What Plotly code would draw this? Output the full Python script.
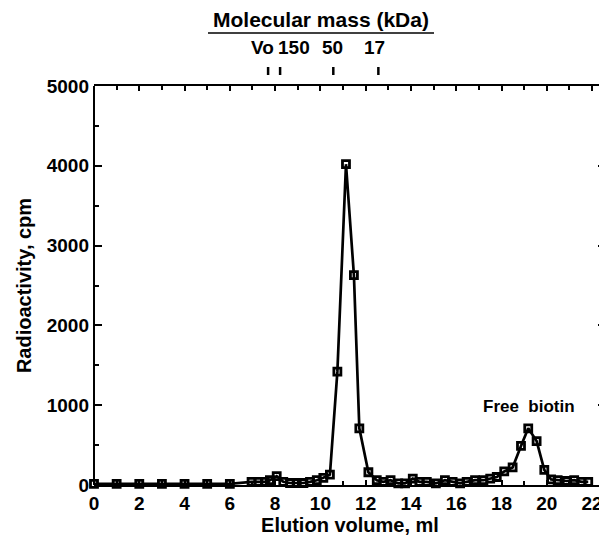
import plotly.graph_objects as go

# Elution profile data (ml, cpm)
elution_ml = [0, 1, 2, 3, 4, 5, 6, 6.96, 7.26, 7.55, 7.77, 8.07, 8.36, 8.66, 8.95, 9.25, 9.54,
              9.84, 10.13, 10.42, 10.75, 11.13, 11.48, 11.72, 12.12, 12.49, 12.78, 13.1,
              13.44, 13.74, 14.08, 14.37, 14.7, 15.1, 15.5, 15.84, 16.17, 16.46, 16.83,
              17.2, 17.5, 17.79, 18.12, 18.49, 18.86, 19.18, 19.55, 19.89, 20.19, 20.48,
              20.88, 21.21, 21.54, 21.83]
radioactivity_cpm = [15, 15, 15, 15, 15, 15, 15, 40, 40, 40, 60, 110, 40, 25, 25, 25, 40,
                     60, 90, 130, 1420, 4020, 2630, 710, 160, 60, 40, 60,
                     20, 20, 80, 40, 40, 20, 60, 40, 20, 40, 60,
                     60, 80, 100, 170, 220, 490, 710, 550, 190, 70, 60,
                     50, 60, 40, 40]

# Molecular mass markers (top)
marker_labels = ["Vo", "150", "50", "17"]
marker_ml = [7.69, 8.22, 10.57, 12.56]
marker_label_ml = [7.45, 8.85, 10.55, 12.4]

FONT = "Liberation Sans, Arial, Helvetica, sans-serif"
# page has an 8px body margin; figure coords = page coords - 8
PL, PR, PT, PB = 94, 606, 86, 485          # plot area in page pixels
XMAX = (PR - PL) / 22.64

fig = go.Figure()
fig.add_trace(go.Scatter(
    x=elution_ml, y=radioactivity_cpm, mode="lines+markers",
    line=dict(color="black", width=2.7),
    marker=dict(symbol="square-open", size=7, color="black", line=dict(width=2.8, color="black")),
    showlegend=False, cliponaxis=False,
))

W, H = 599, 528
fig.update_layout(
    width=W, height=H,
    margin=dict(l=PL - 8, r=W - (PR - 8), t=PT - 8, b=H - (PB - 8), autoexpand=False),
    paper_bgcolor="white", plot_bgcolor="white",
    font=dict(family=FONT, color="black", size=19, weight="bold"),
    xaxis=dict(
        range=[0, XMAX], tickmode="array", tickvals=list(range(0, 23, 2)),
        ticks="inside", ticklen=5, tickwidth=2, tickcolor="black", automargin=False,
        minor=dict(tickvals=list(range(1, 23, 2)), ticks="inside", ticklen=4, tickwidth=2,
                   tickcolor="black"),
        mirror="ticks",
        showline=True, linewidth=2, linecolor="black", showgrid=False,
        zeroline=True, zerolinecolor="black", zerolinewidth=2,
        tickfont=dict(size=19, family=FONT, weight="bold"),
        title=dict(text="Elution volume, ml", font=dict(size=20, family=FONT, weight="bold"), standoff=8),
    ),
    yaxis=dict(
        range=[0, 5000], tickvals=[0, 1000, 2000, 3000, 4000, 5000], automargin=False,
        ticks="inside", ticklen=8, tickwidth=2, tickcolor="black",
        minor=dict(dtick=500, ticks="inside", ticklen=5, tickwidth=2, tickcolor="black"),
        mirror="ticks",
        showline=False, showgrid=False, zeroline=False,
        tickfont=dict(size=19, family=FONT, weight="bold"), ticklabelstandoff=4,
        title=dict(text="Radioactivity, cpm", font=dict(size=20, family=FONT, weight="bold"), standoff=9),
    ),
)


def px(xp):
    return (xp - PL) / (PR - PL)


def py(yp):
    return (PB - yp) / (PB - PT)


fig.add_annotation(x=px(321), y=py(20), xref="paper", yref="paper", text="Molecular mass (kDa)",
                   showarrow=False, xanchor="center", yanchor="middle",
                   font=dict(size=21, family=FONT, weight="bold"))
fig.add_shape(type="line", xref="paper", yref="paper", x0=px(208), x1=px(434), y0=py(33), y1=py(33),
              line=dict(color="black", width=1.5))

for lab, mx, lx in zip(marker_labels, marker_ml, marker_label_ml):
    fig.add_annotation(x=lx, y=py(48), xref="x", yref="paper", text=lab, showarrow=False,
                       xanchor="center", yanchor="middle",
                       font=dict(size=19, family=FONT, weight="bold"))
    fig.add_shape(type="line", xref="x", yref="paper", x0=mx, x1=mx, y0=py(75), y1=py(67),
                  line=dict(color="black", width=2.5))

fig.add_annotation(x=19.2, y=py(406), xref="x", yref="paper", text="Free  biotin", showarrow=False,
                   xanchor="center", yanchor="middle",
                   font=dict(size=17, family=FONT, weight="bold"))

fig.write_html("out.html")
